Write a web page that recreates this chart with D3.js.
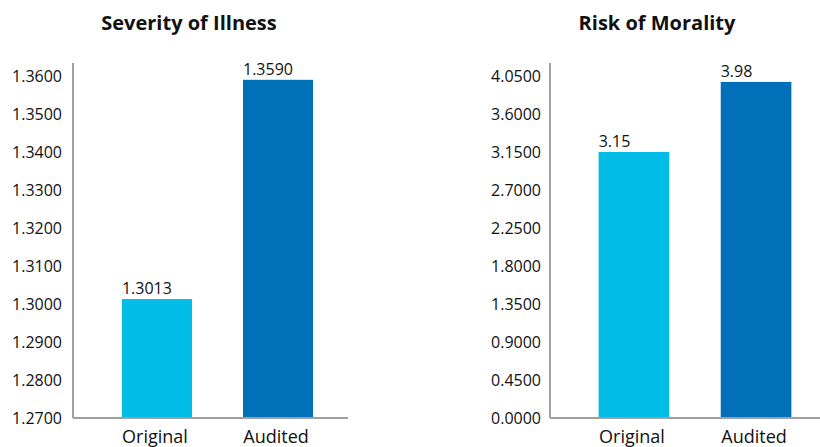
<!DOCTYPE html>
<html>
<head>
<meta charset="utf-8">
<script src="https://d3js.org/d3.v7.min.js"></script>
<style>
  body { margin: 0; background: #fff; }
  text { font-family: "Open Sans", sans-serif; fill: #111; }
</style>
</head>
<body>
<div class="vis"></div>
<script>
  // data
  const categories = ["Original", "Audited"];
  const severityValues = [1.3013, 1.3590];
  const severityLabels = ["1.3013", "1.3590"];
  const severityTicks = [1.27, 1.28, 1.29, 1.30, 1.31, 1.32, 1.33, 1.34, 1.35, 1.36];
  const riskValues = [3.15, 3.98];
  const riskLabels = ["3.15", "3.98"];
  const riskTicks = [0, 0.45, 0.9, 1.35, 1.8, 2.25, 2.7, 3.15, 3.6, 4.05];
  const colors = ["#00bce6", "#0070b9"];

  const width = 820, height = 447;
  const svg = d3.select(".vis").append("svg")
    .attr("width", width)
    .attr("height", height);

  function panel(cfg) {
    const g = svg.append("g");
    const y = d3.scaleLinear().domain(cfg.domain).range([418, 76]);
    const x = d3.scaleBand().domain(categories).range(cfg.xRange)
      .paddingInner(0.4215).paddingOuter(0.21);

    // title
    g.append("text")
      .attr("x", cfg.titleX).attr("y", 30)
      .attr("text-anchor", "middle")
      .style("font-weight", "bold")
      .style("font-size", "20px")
      .text(cfg.title);

    // y tick labels
    g.selectAll(".tick-label")
      .data(cfg.ticks)
      .join("text")
      .attr("class", "tick-label")
      .attr("x", cfg.labelRight)
      .attr("y", d => y(d) + 6)
      .attr("text-anchor", "end")
      .style("font-size", "16px")
      .text(d => d3.format(".4f")(d));

    // axis lines
    g.append("line")
      .attr("x1", cfg.axisX).attr("x2", cfg.axisX)
      .attr("y1", 63).attr("y2", 418)
      .attr("stroke", "#a0a0a0").attr("stroke-width", 2);
    g.append("line")
      .attr("x1", cfg.axisX).attr("x2", cfg.baseEnd)
      .attr("y1", 418).attr("y2", 418)
      .attr("stroke", "#a0a0a0").attr("stroke-width", 2);

    // bars
    g.selectAll("rect")
      .data(cfg.values)
      .join("rect")
      .attr("x", (d, i) => x(categories[i]))
      .attr("y", d => y(d))
      .attr("width", x.bandwidth())
      .attr("height", d => 417 - y(d))
      .attr("fill", (d, i) => colors[i]);

    // value labels
    g.selectAll(".value-label")
      .data(cfg.values)
      .join("text")
      .attr("class", "value-label")
      .attr("x", (d, i) => x(categories[i]))
      .attr("y", d => y(d) - 5)
      .style("font-size", "16px")
      .text((d, i) => cfg.valueLabels[i]);

    // category labels
    g.selectAll(".cat-label")
      .data(categories)
      .join("text")
      .attr("class", "cat-label")
      .attr("x", d => x(d) + x.bandwidth() / 2 - 2)
      .attr("y", 443)
      .attr("text-anchor", "middle")
      .style("font-size", "18px")
      .text(d => d);
  }

  panel({
    title: "Severity of Illness", titleX: 189,
    domain: [1.27, 1.36], ticks: severityTicks,
    values: severityValues, valueLabels: severityLabels,
    xRange: [96.5, 338.5], axisX: 73, baseEnd: 348, labelRight: 62
  });
  panel({
    title: "Risk of Morality", titleX: 657,
    domain: [0, 4.05], ticks: riskTicks,
    values: riskValues, valueLabels: riskLabels,
    xRange: [573, 817], axisX: 550, baseEnd: 820, labelRight: 541
  });
</script>
</body>
</html>
